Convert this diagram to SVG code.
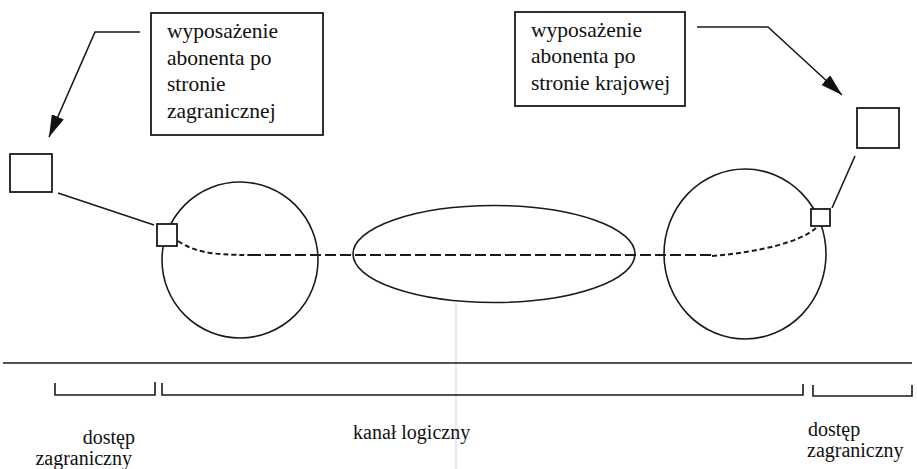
<svg xmlns="http://www.w3.org/2000/svg" width="917" height="469" viewBox="0 0 917 469">
  <defs>
    <style>
      .ln { fill: none; stroke: #1a1a1a; stroke-width: 1.6; }
      .box { fill: #fff; stroke: #1a1a1a; stroke-width: 1.8; }
      .lbl { font-family: "Liberation Serif", "Times New Roman", serif; font-size: 21.5px; fill: #111; }
      .cap { font-family: "Liberation Serif", "Times New Roman", serif; font-size: 20px; fill: #111; }
      .dash { fill: none; stroke: #1a1a1a; stroke-width: 2; stroke-dasharray: 11 4; }
      .dots { fill: none; stroke: #1a1a1a; stroke-width: 2; stroke-dasharray: 5 3; }
    </style>
    <marker id="arrow" viewBox="0 0 22 13" refX="22" refY="6.5" markerWidth="22" markerHeight="13" markerUnits="userSpaceOnUse" orient="auto">
      <path d="M0,0 L22,6.5 L0,13 Z" fill="#111"/>
    </marker>
  </defs>
  <rect width="917" height="469" fill="#fff"/>

  <!-- faint fold line -->
  <line x1="456" y1="303" x2="456" y2="469" stroke="#d8d8d8" stroke-width="1.2"/>

  <!-- networks -->
  <g id="siec-zagraniczna">
    <ellipse class="ln" cx="240" cy="260" rx="78" ry="78"/>
  </g>
  <g id="kanal">
    <ellipse class="ln" cx="494" cy="254" rx="141" ry="48.5"/>
  </g>
  <g id="siec-krajowa">
    <ellipse class="ln" cx="745" cy="254" rx="81" ry="85"/>
  </g>

  <!-- terminals -->
  <g id="terminal-zagraniczny">
    <rect class="box" x="10" y="154" width="42" height="38"/>
  </g>
  <g id="terminal-krajowy">
    <rect class="box" x="857" y="108" width="42" height="40"/>
  </g>
  <g id="punkt-dostepu-lewy">
    <rect class="box" x="157" y="224" width="20" height="22"/>
  </g>
  <g id="punkt-dostepu-prawy">
    <rect class="box" x="811" y="209" width="19" height="17"/>
  </g>

  <!-- callouts -->
  <g id="opis-zagraniczny">
    <rect class="box" x="151" y="13" width="172" height="122"/>
    <text class="lbl" x="167" y="38">wyposażenie</text>
    <text class="lbl" x="167" y="65">abonenta po</text>
    <text class="lbl" x="167" y="91">stronie</text>
    <text class="lbl" x="167" y="118">zagranicznej</text>
  </g>
  <g id="opis-krajowy">
    <rect class="box" x="515" y="12" width="170" height="94"/>
    <text class="lbl" x="531" y="37">wyposażenie</text>
    <text class="lbl" x="531" y="63">abonenta po</text>
    <text class="lbl" x="531" y="90">stronie krajowej</text>
  </g>

  <!-- connectors -->
  <g id="polaczenia">
    <polyline class="ln" points="140,32 95,32 49,137" marker-end="url(#arrow)"/>
    <polyline class="ln" points="697,27 768,27 842,95" marker-end="url(#arrow)"/>
    <line class="ln" x1="58" y1="193" x2="154" y2="225"/>
    <line class="ln" x1="855" y1="156" x2="832" y2="208"/>
    <!-- logical channel path -->
    <path class="dots" d="M178,241 C195,252 210,255 250,255"/>
    <path class="dash" d="M250,255 L712,255"/>
    <path class="dots" d="M712,256 C760,252 800,242 816,228"/>
  </g>

  <!-- scale -->
  <g id="podzial">
    <line class="ln" x1="3" y1="363" x2="912" y2="363"/>
    <polyline class="ln" points="55,383 55,395 155,395 155,382"/>
    <polyline class="ln" points="162,383 162,395 803,395 803,384"/>
    <polyline class="ln" points="813,385 813,396 912,396 912,385"/>
    <text class="cap" x="135" y="444" text-anchor="end">dostęp</text>
    <text class="cap" x="132" y="465" text-anchor="end">zagraniczny</text>
    <text class="cap" x="353" y="439">kanał logiczny</text>
    <text class="cap" x="808" y="436">dostęp</text>
    <text class="cap" x="807" y="457">zagraniczny</text>
  </g>
</svg>
